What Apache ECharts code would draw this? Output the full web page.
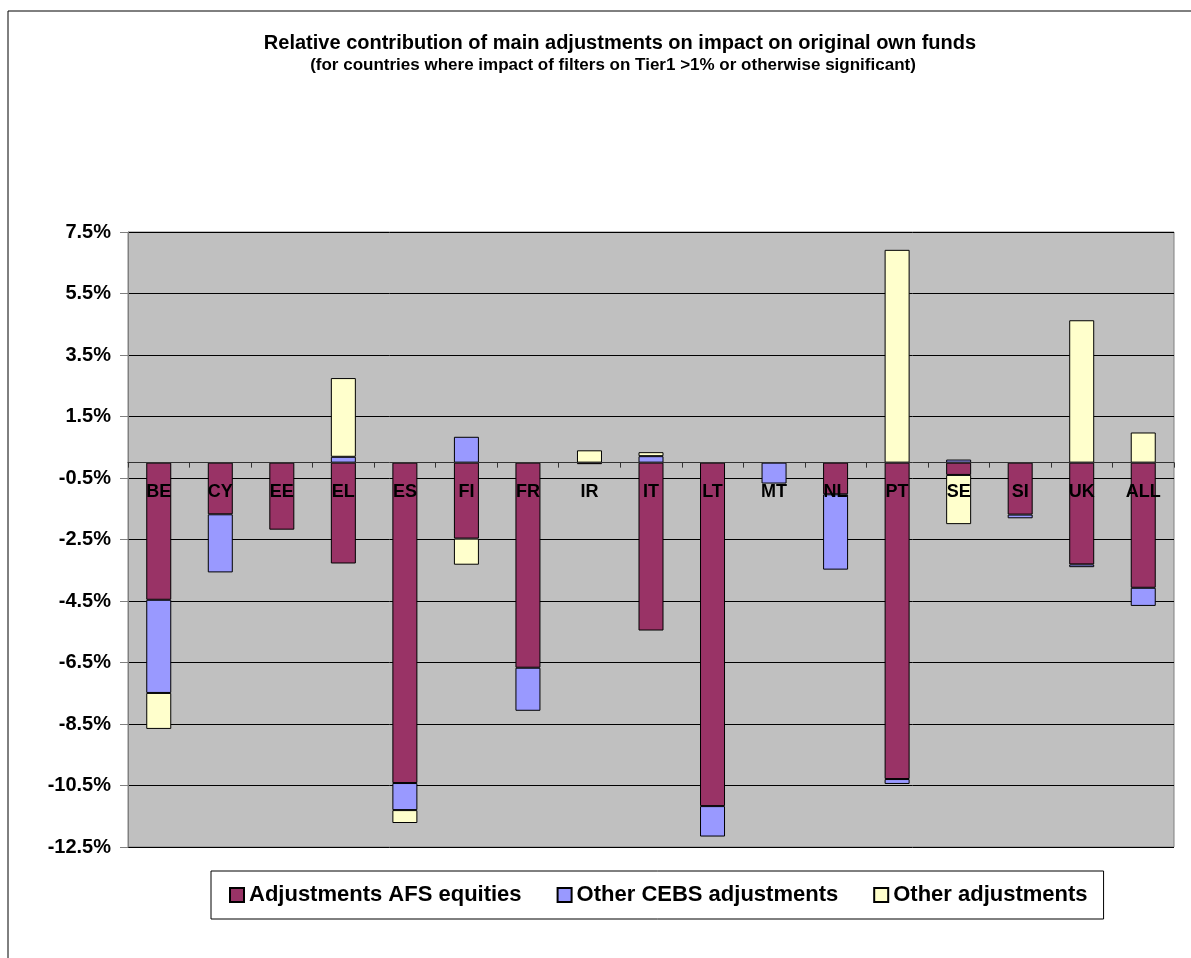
<!DOCTYPE html>
<html>
<head>
<meta charset="utf-8">
<script src="https://cdn.jsdelivr.net/npm/echarts@6/dist/echarts.min.js"></script>
<style>
  html, body { margin: 0; padding: 0; background: #fff; }
  #main { width: 1191px; height: 958px; }
</style>
</head>
<body>
<div id="main"></div>
<script>
// countries on the x axis
var categories = ['BE', 'CY', 'EE', 'EL', 'ES', 'FI', 'FR', 'IR', 'IT', 'LT', 'MT', 'NL', 'PT', 'SE', 'SI', 'UK', 'ALL'];
// values in % of original own funds, '-' = nothing shown
var afsEquities = [-4.46, -1.68, -2.18, -3.28, -10.42, -2.47, -6.67, -0.05, -5.46, -11.17, '-', -1.03, -10.29, -0.40, -1.69, -3.31, -4.07];
var otherCebs = [-3.03, -1.89, '-', 0.19, -0.88, 0.84, -1.40, '-', 0.21, -0.99, -0.68, -2.45, -0.16, 0.10, -0.12, -0.09, -0.59];
var otherAdj = [-1.17, '-', '-', 2.56, -0.42, -0.85, '-', 0.40, 0.13, '-', '-', '-', 6.92, -1.60, '-', 4.63, 0.98];
var seriesNames = ['Adjustments AFS equities', 'Other CEBS adjustments', 'Other adjustments'];
var seriesColors = ['#993366', '#9999FF', '#FFFFCC'];
// y axis runs -12.5 .. 7.5 in steps of 2
var yMin = -12.5, yMax = 7.5, yStep = 2;

var font = 'Liberation Sans, Arial, sans-serif';

var chart = echarts.init(document.getElementById('main'));

var series = [afsEquities, otherCebs, otherAdj].map(function (vals, i) {
    return {
        name: seriesNames[i],
        type: 'bar',
        stack: 'total',
        barWidth: 25,
        itemStyle: {
            color: seriesColors[i],
            borderColor: '#000',
            borderWidth: 1
        },
        data: vals
    };
});

var option = {
    animation: false,
    graphic: [{
        type: 'rect',
        shape: { x: 8, y: 11, width: 1300, height: 1100 },
        style: { fill: 'none', stroke: '#000', lineWidth: 1 },
        z: -1
    }],
    title: [{
        text: 'Relative contribution of main adjustments on impact on original own funds',
        left: 615,
        top: 28,
        textAlign: 'center',
        textStyle: { fontFamily: font, fontSize: 20, fontWeight: 'bold', color: '#000' }
    }, {
        text: '(for countries where impact of filters on Tier1 >1% or otherwise significant)',
        left: 608,
        top: 52,
        textAlign: 'center',
        textStyle: { fontFamily: font, fontSize: 17, fontWeight: 'bold', color: '#000' }
    }],
    legend: {
        left: 211,
        top: 871,
        data: seriesNames,
        backgroundColor: '#fff',
        borderColor: '#000',
        borderWidth: 1,
        padding: [13, 16, 13, 18],
        itemGap: 35,
        itemWidth: 14,
        itemHeight: 14,
        icon: 'rect',
        textStyle: { fontFamily: font, fontSize: 22, fontWeight: 'bold', color: '#000' }
    },
    grid: {
        left: 128,
        right: 17,
        top: 232,
        bottom: 111,
        show: true,
        backgroundColor: '#C0C0C0',
        borderColor: '#808080',
        borderWidth: 1
    },
    xAxis: {
        type: 'category',
        data: categories,
        z: 5,
        offset: 0,
        axisLine: { onZero: false, lineStyle: { color: '#333', width: 1 } },
        axisTick: { show: true, length: 5, lineStyle: { color: '#333' } },
        axisLabel: {
            margin: 20,
            interval: 0,
            fontFamily: font,
            fontSize: 18,
            fontWeight: 'bold',
            color: '#000'
        }
    },
    yAxis: {
        type: 'value',
        min: yMin,
        max: yMax,
        interval: yStep,
        axisLine: { show: true, lineStyle: { color: '#808080' } },
        axisTick: { show: true, length: 8, lineStyle: { color: '#808080' } },
        splitLine: { lineStyle: { color: '#000', width: 1 } },
        axisLabel: {
            margin: 17,
            fontFamily: font,
            fontSize: 20,
            fontWeight: 'bold',
            color: '#000',
            formatter: function (v) { return v.toFixed(1) + '%'; }
        }
    },
    series: series
};

chart.setOption(option);

// move the category axis (line, ticks and labels) up to the zero line
var zeroY = chart.convertToPixel({ yAxisIndex: 0 }, 0);
var bottomY = chart.convertToPixel({ yAxisIndex: 0 }, yMin);
chart.setOption({ xAxis: { offset: zeroY - bottomY } });
</script>
</body>
</html>
